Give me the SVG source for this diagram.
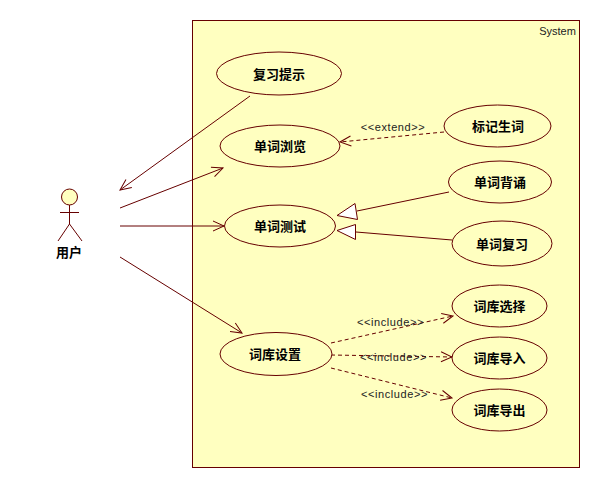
<svg xmlns="http://www.w3.org/2000/svg" width="600" height="488" viewBox="0 0 600 488">
<style>
.s{stroke:#660000;stroke-width:1;fill:none}
.d{stroke-dasharray:4 3}
.u{fill:#ffffc0;stroke:#660000;stroke-width:1}
.t{fill:#ffffff;stroke:#660000;stroke-width:1}
.n{font:bold 13px "Noto Sans CJK SC",sans-serif;fill:#000;text-anchor:middle}
.l{font:11px "Liberation Sans",sans-serif;fill:#222;text-anchor:middle}
.w{letter-spacing:.6px}
</style>
<defs>
<marker id="a" markerUnits="userSpaceOnUse" markerWidth="14" markerHeight="14" refX="13" refY="7" orient="auto"><path d="M2 2L13 7L2 12" fill="none" stroke="#660000"/></marker>
</defs>
<rect width="600" height="488" fill="#fff"/>
<rect id="system" class="u" x="192.5" y="20.5" width="387" height="447"/>
<text class="l" x="557.5" y="35">System</text>
<g id="connectors">
<path class="s" d="M250 96L120 190" marker-end="url(#a)"/>
<path class="s" d="M120 208L223 168" marker-end="url(#a)"/>
<path class="s" d="M120 226L224 226" marker-end="url(#a)"/>
<path class="s" d="M120 257L242 333" marker-end="url(#a)"/>
<path class="s d" d="M444 132L340 142" marker-end="url(#a)"/>
<path class="s" d="M449 192L357 211"/>
<polygon class="t" points="337,215.5 355,203.5 357.5,219.5"/>
<path class="s" d="M452 240L356 232"/>
<polygon class="t" points="337,230.5 355.5,224.5 355.5,239.5"/>
<path class="s d" d="M331 343L453 316" marker-end="url(#a)"/>
<path class="s d" d="M331 355L452 357" marker-end="url(#a)"/>
<path class="s d" d="M331 368L452 398" marker-end="url(#a)"/>
<text class="l w" x="393" y="131">&lt;&lt;extend&gt;&gt;</text>
<text class="l w" x="390.5" y="326">&lt;&lt;include&gt;&gt;</text>
<text class="l w" x="393.5" y="361">&lt;&lt;include&gt;&gt;</text>
<text class="l w" x="394.5" y="398">&lt;&lt;include&gt;&gt;</text>
</g>
<g id="actor">
<circle class="u" cx="69.5" cy="197" r="8"/>
<path class="s" d="M69.5 205V224M60 212.5H79M69.5 224L58 241M69.5 224L82 241"/>
<text class="n" x="69" y="257">用户</text>
</g>
<g id="uc1"><ellipse class="u" cx="279" cy="73.5" rx="62.5" ry="21.5"/><text class="n" x="279" y="79">复习提示</text></g>
<g id="uc2"><ellipse class="u" cx="280" cy="146" rx="60" ry="21"/><text class="n" x="280" y="151">单词浏览</text></g>
<g id="uc3"><ellipse class="u" cx="280" cy="226" rx="55.5" ry="21"/><text class="n" x="280" y="231">单词测试</text></g>
<g id="uc4"><ellipse class="u" cx="497.5" cy="126" rx="53.5" ry="21"/><text class="n" x="498" y="131">标记生词</text></g>
<g id="uc5"><ellipse class="u" cx="500" cy="182" rx="51.5" ry="21"/><text class="n" x="500" y="187">单词背诵</text></g>
<g id="uc6"><ellipse class="u" cx="502" cy="243.5" rx="50" ry="22.5"/><text class="n" x="502" y="249">单词复习</text></g>
<g id="uc7"><ellipse class="u" cx="276" cy="354" rx="56" ry="21.5"/><text class="n" x="275" y="359">词库设置</text></g>
<g id="uc8"><ellipse class="u" cx="499.5" cy="306" rx="47.5" ry="21"/><text class="n" x="499.5" y="311">词库选择</text></g>
<g id="uc9"><ellipse class="u" cx="499.5" cy="358" rx="47.5" ry="21"/><text class="n" x="499.5" y="363">词库导入</text></g>
<g id="uc10"><ellipse class="u" cx="499.5" cy="410" rx="47.5" ry="21"/><text class="n" x="499.5" y="415">词库导出</text></g>
</svg>
